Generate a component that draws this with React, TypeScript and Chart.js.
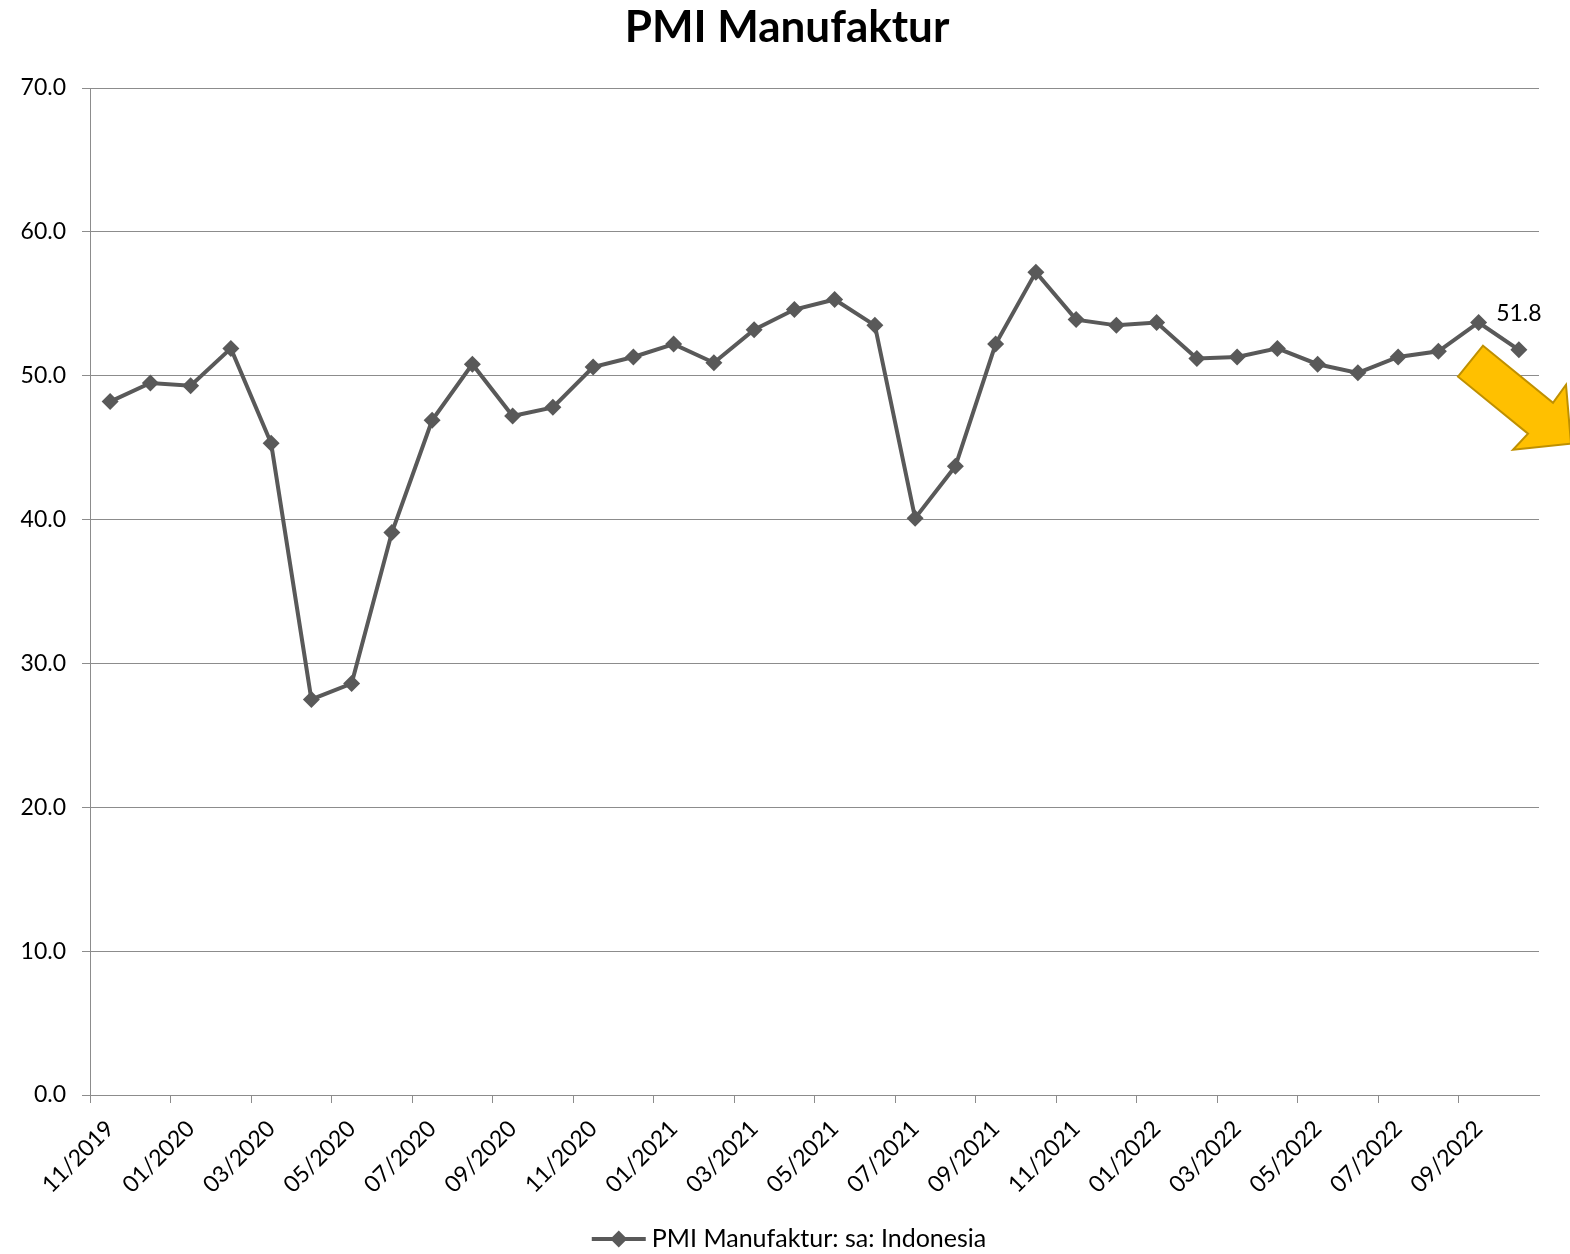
import React, { useEffect, useRef } from "react";
import { Chart, registerables } from "chart.js";

Chart.register(...registerables);

const months: string[] = [
  "11/2019", "12/2019", "01/2020", "02/2020", "03/2020", "04/2020", "05/2020", "06/2020",
  "07/2020", "08/2020", "09/2020", "10/2020", "11/2020", "12/2020", "01/2021", "02/2021",
  "03/2021", "04/2021", "05/2021", "06/2021", "07/2021", "08/2021", "09/2021", "10/2021",
  "11/2021", "12/2021", "01/2022", "02/2022", "03/2022", "04/2022", "05/2022", "06/2022",
  "07/2022", "08/2022", "09/2022", "10/2022",
];

const pmiValues: number[] = [
  48.2, 49.5, 49.3, 51.9, 45.3, 27.5, 28.6, 39.1,
  46.9, 50.8, 47.2, 47.8, 50.6, 51.3, 52.2, 50.9,
  53.2, 54.6, 55.3, 53.5, 40.1, 43.7, 52.2, 57.2,
  53.9, 53.5, 53.7, 51.2, 51.3, 51.9, 50.8, 50.2,
  51.3, 51.7, 53.7, 51.8,
];

const chartTitle = "PMI Manufaktur";
const seriesName = "PMI Manufaktur: sa: Indonesia";

const FONT = "Lato, 'Open Sans', sans-serif";
const LINE_COLOR = "#595959";
const GRID_COLOR = "#8c8c8c";

const overlayPlugin = {
  id: "overlay",
  afterDraw(chart: any) {
    const { ctx, chartArea, scales } = chart;
    const W = chart.width;
    ctx.save();
    // Title
    ctx.fillStyle = "#000";
    ctx.font = `bold 44px ${FONT}`;
    ctx.textAlign = "center";
    ctx.textBaseline = "middle";
    ctx.fillText(chartTitle, W / 2 + 2, 28);

    // Data label on last point
    const meta = chart.getDatasetMeta(0);
    const last = meta.data[meta.data.length - 1];
    ctx.font = `23px ${FONT}`;
    ctx.fillText(String(pmiValues[pmiValues.length - 1]), last.x, last.y - 36);

    // Arrow
    const ax = chartArea.right;
    const ay = scales.y.getPixelForValue(50);
    const pts = [
      [-56, -30], [14, 27], [27, 9], [32, 68], [-26, 74], [-11, 58], [-81, 1],
    ];
    ctx.beginPath();
    pts.forEach(([dx, dy], i) => {
      if (i === 0) ctx.moveTo(ax + dx, ay + dy);
      else ctx.lineTo(ax + dx, ay + dy);
    });
    ctx.closePath();
    ctx.fillStyle = "#FFC000";
    ctx.fill();
    ctx.strokeStyle = "#BF9000";
    ctx.lineWidth = 2;
    ctx.stroke();

    // Legend
    ctx.font = `25px ${FONT}`;
    const textW = ctx.measureText(seriesName).width;
    const sampleW = 54;
    const gap = 6;
    const total = sampleW + gap + textW;
    const lx = W / 2 - total / 2 + 4;
    const ly = 1239;
    ctx.strokeStyle = LINE_COLOR;
    ctx.lineWidth = 4;
    ctx.beginPath();
    ctx.moveTo(lx, ly);
    ctx.lineTo(lx + sampleW, ly);
    ctx.stroke();
    const cx = lx + sampleW / 2;
    const r = 8.5;
    ctx.fillStyle = LINE_COLOR;
    ctx.beginPath();
    ctx.moveTo(cx, ly - r);
    ctx.lineTo(cx + r, ly);
    ctx.lineTo(cx, ly + r);
    ctx.lineTo(cx - r, ly);
    ctx.closePath();
    ctx.fill();
    ctx.fillStyle = "#000";
    ctx.textAlign = "left";
    ctx.textBaseline = "middle";
    ctx.fillText(seriesName, lx + sampleW + gap, ly);
    ctx.restore();
  },
};

export default function App() {
  const canvasRef = useRef<HTMLCanvasElement>(null);

  useEffect(() => {
    document.body.style.margin = "0";
    const canvas = canvasRef.current!;
    const chart = new Chart(canvas, {
      type: "line",
      data: {
        labels: months,
        datasets: [
          {
            label: seriesName,
            data: pmiValues,
            borderColor: LINE_COLOR,
            backgroundColor: LINE_COLOR,
            borderWidth: 4,
            pointStyle: "rectRot",
            pointRadius: 8.5,
            pointHoverRadius: 8.5,
            pointBackgroundColor: LINE_COLOR,
            pointBorderColor: LINE_COLOR,
            pointBorderWidth: 0,
            tension: 0,
            clip: false as any,
          },
        ],
      },
      options: {
        responsive: false,
        animation: false,
        devicePixelRatio: 1,
        layout: { padding: { top: 88, right: 31, left: 0, bottom: 0 } },
        plugins: {
          legend: { display: false },
          title: { display: false },
          tooltip: { enabled: false },
        },
        scales: {
          x: {
            type: "category",
            offset: true,
            grid: {
              offset: true,
              drawOnChartArea: false,
              drawTicks: true,
              tickLength: 8,
              color: (ctx: any) => (ctx.index % 2 === 0 ? GRID_COLOR : "rgba(0,0,0,0)"),
            },
            border: { display: true, color: GRID_COLOR, width: 1 },
            ticks: {
              autoSkip: false,
              maxRotation: 45,
              minRotation: 45,
              padding: 12,
              color: "#000",
              font: { family: FONT, size: 23 },
              callback: (_v: any, i: number) => (i % 2 === 0 ? months[i] : ""),
            },
            afterFit: (scale: any) => {
              scale.height = 159;
            },
          },
          y: {
            min: 0,
            max: 70,
            ticks: {
              stepSize: 10,
              padding: 16,
              color: "#000",
              font: { family: FONT, size: 23 },
              callback: (v: any) => Number(v).toFixed(1),
            },
            grid: {
              color: GRID_COLOR,
              tickLength: 8,
              lineWidth: 1,
            },
            border: { display: true, color: GRID_COLOR, width: 1 },
            afterFit: (scale: any) => {
              scale.width = 90;
            },
          },
        },
      },
      plugins: [overlayPlugin],
    });
    return () => chart.destroy();
  }, []);

  return <canvas ref={canvasRef} width={1570} height={1254} style={{ display: "block" }} />;
}
